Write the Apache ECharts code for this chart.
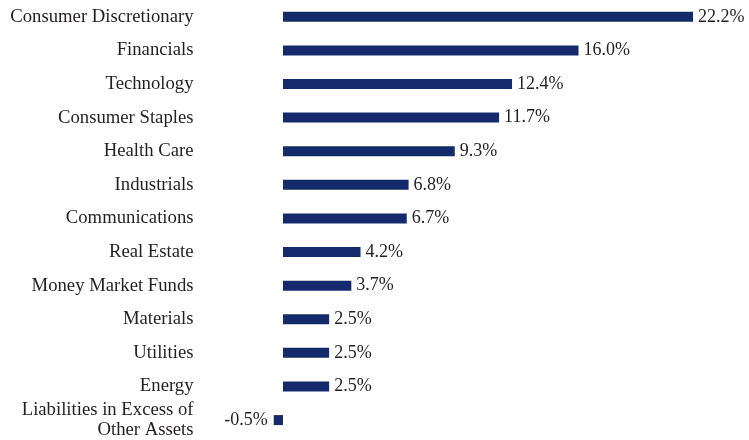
<!DOCTYPE html>
<html>
<head>
<meta charset="utf-8">
<script src="https://cdn.jsdelivr.net/npm/echarts@6/dist/echarts.min.js"></script>
<style>
  html, body { margin: 0; padding: 0; background: #fff; }
  #chart { width: 749px; height: 440px; }
</style>
</head>
<body>
<div id="chart"></div>
<script>
// sectors, top to bottom
var sectors = [
  'Consumer Discretionary', 'Financials', 'Technology', 'Consumer Staples',
  'Health Care', 'Industrials', 'Communications', 'Real Estate',
  'Money Market Funds', 'Materials', 'Utilities', 'Energy',
  'Liabilities in Excess of\nOther Assets'
];
var weights = [22.2, 16.0, 12.4, 11.7, 9.3, 6.8, 6.7, 4.2, 3.7, 2.5, 2.5, 2.5, -0.5];

var barColor = '#152a6c';
var font = 'Liberation Serif';

var chart = echarts.init(document.getElementById('chart'));

// negative bars get their label on the left side
var barData = weights.map(function (v) {
  return {
    value: v,
    label: { position: v < 0 ? 'left' : 'right', distance: v < 0 ? 6 : 5 }
  };
});

chart.setOption({
  animation: false,
  grid: { left: 264.5, right: 22.7, top: -2, bottom: 3 },
  xAxis: {
    type: 'value',
    min: -1,
    max: 24,
    show: false
  },
  yAxis: {
    type: 'category',
    data: sectors,
    inverse: true,
    axisLine: { show: false },
    axisTick: { show: false },
    splitLine: { show: false },
    axisLabel: {
      margin: 71,
      color: '#231f20',
      fontFamily: font,
      fontSize: 18.7,
      lineHeight: 20,
      align: 'right'
    }
  },
  series: [{
    type: 'bar',
    data: barData,
    barWidth: 10,
    itemStyle: { color: barColor },
    label: {
      show: true,
      color: '#231f20',
      fontFamily: font,
      fontSize: 18,
      formatter: function (p) { return p.value.toFixed(1) + '%'; }
    }
  }]
});
</script>
</body>
</html>
